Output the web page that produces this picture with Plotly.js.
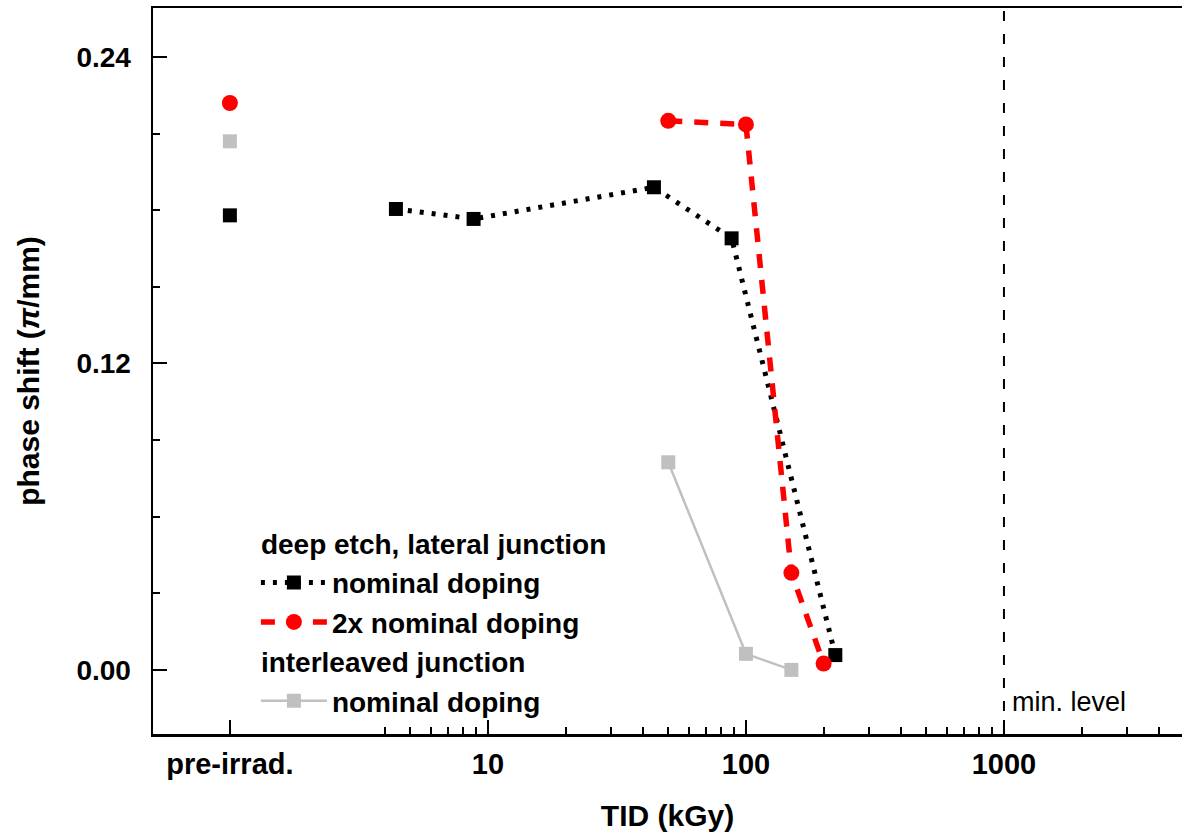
<!DOCTYPE html>
<html>
<head>
<meta charset="utf-8">
<script src="https://cdn.plot.ly/plotly-3.0.1.min.js"></script>
<style>html,body{margin:0;padding:0;overflow:hidden;background:#fff}</style>
</head>
<body>
<div id="chart" style="width:1182px;height:832px"></div>
<script>
// pre-irradiation is plotted at TID = 1 kGy (log position 0)
const preIrradX = 1;

// deep etch, lateral junction - nominal doping
const deepNomPre = 0.178;
const deepNomTID = [4.4, 8.8, 44, 88, 222];
const deepNomShift = [0.1805, 0.1766, 0.189, 0.169, 0.0058];

// deep etch, lateral junction - 2x nominal doping
const deep2xPre = 0.222;
const deep2xTID = [50, 100, 150, 200];
const deep2xShift = [0.2150, 0.2136, 0.0380, 0.0025];

// interleaved junction - nominal doping
const interNomPre = 0.207;
const interNomTID = [50, 100, 150];
const interNomShift = [0.0813, 0.0063, 0.0000];

// minimum level line
const minLevel = 1000;
const minLevelLabel = 'min. level';

// axis ticks
const xTickVals = [1, 10, 100, 1000];
const xTickText = ['pre-irrad.', '10', '100', '1000'];
const xMinorVals = [4,5,6,7,8,9,20,30,40,50,60,70,80,90,200,300,400,500,600,700,800,900,2000,3000,4000];
const yTickVals = [0, 0.12, 0.24];
const yTickText = ['0.00', '0.12', '0.24'];

const FONT = 'Arial, "Liberation Sans", sans-serif';
const black = '#000000', red = '#ff0000', gray = '#c0c0c0';

const yRange = [-0.0251, 0.2592];

const traces = [
  {
    x: deepNomTID, y: deepNomShift, mode: 'lines+markers', name: 'nominal doping',
    legendgroup: 'deep', legendgrouptitle: {text: 'deep etch, lateral junction', font: {size: 28, weight: 'bold', color: black}},
    line: {color: black, width: 5, dash: '4px,8px'},
    marker: {symbol: 'square', size: 14, color: black}
  },
  {
    x: deep2xTID, y: deep2xShift, mode: 'lines+markers', name: '2x nominal doping',
    legendgroup: 'deep',
    line: {color: red, width: 5.5, dash: '14px,12px'},
    marker: {symbol: 'circle', size: 16, color: red}
  },
  {
    x: interNomTID, y: interNomShift, mode: 'lines+markers', name: 'nominal doping',
    legendgroup: 'inter', legendgrouptitle: {text: 'interleaved junction', font: {size: 28, weight: 'bold', color: black}},
    line: {color: gray, width: 2.5},
    marker: {symbol: 'square', size: 14, color: gray}
  },
  {
    x: [preIrradX], y: [deepNomPre], mode: 'markers', showlegend: false, legendgroup: 'deep',
    marker: {symbol: 'square', size: 14, color: black}
  },
  {
    x: [preIrradX], y: [deep2xPre], mode: 'markers', showlegend: false, legendgroup: 'deep',
    marker: {symbol: 'circle', size: 16, color: red}
  },
  {
    x: [preIrradX], y: [interNomPre], mode: 'markers', showlegend: false, legendgroup: 'inter',
    marker: {symbol: 'square', size: 14, color: gray}
  },
  {
    x: [minLevel, minLevel], y: yRange, mode: 'lines', showlegend: false, hoverinfo: 'skip',
    line: {color: black, width: 2, dash: '10px,13px'}
  }
];

const layout = {
  width: 1182, height: 832,
  margin: {l: 153, r: 0, t: 8, b: 98},
  paper_bgcolor: '#ffffff', plot_bgcolor: '#ffffff',
  font: {family: FONT, color: black},
  showlegend: true,
  legend: {
    x: 0.1, y: 0.297, xanchor: 'left', yanchor: 'top',
    bgcolor: 'rgba(0,0,0,0)', traceorder: 'grouped', tracegroupgap: 0,
    font: {size: 28, weight: 'bold', color: black},
    itemwidth: 66
  },
  xaxis: {
    type: 'log', range: [-0.298, 3.69],
    showline: true, linecolor: black, linewidth: 2.5, mirror: true,
    showgrid: false, zeroline: false,
    tickmode: 'array', tickvals: xTickVals, ticktext: xTickText,
    ticks: 'inside', ticklen: 14, tickwidth: 2, tickcolor: black,
    ticklabelstandoff: 3,
    tickfont: {size: 29, weight: 'bold', family: FONT, color: black},
    minor: {tickmode: 'array', tickvals: xMinorVals, ticks: 'inside', ticklen: 7, tickwidth: 2, tickcolor: black, showgrid: false},
    title: {text: 'TID (kGy)', font: {size: 30, weight: 'bold', family: FONT, color: black}, standoff: 26}
  },
  yaxis: {
    range: yRange,
    showline: true, linecolor: black, linewidth: 2.5, mirror: false,
    showgrid: false, zeroline: false,
    tickmode: 'array', tickvals: yTickVals, ticktext: yTickText,
    ticks: 'inside', ticklen: 14, tickwidth: 2, tickcolor: black,
    ticklabelstandoff: 14,
    tickfont: {size: 28, weight: 'bold', family: FONT, color: black},
    minor: {dtick: 0.03, tick0: 0, ticks: 'inside', ticklen: 7, tickwidth: 2, tickcolor: black, showgrid: false},
    title: {text: 'phase shift (<i>π</i>/mm)', font: {size: 30, weight: 'bold', family: FONT, color: black}, standoff: 28}
  },
  annotations: [
    {
      x: Math.log10(minLevel), y: 0.0, xref: 'x', yref: 'y',
      text: minLevelLabel, showarrow: false, xanchor: 'left', yanchor: 'middle',
      xshift: 6, yshift: -32,
      font: {size: 27, family: FONT, color: black}
    }
  ]
};

Plotly.newPlot('chart', traces, layout, {displayModeBar: false, staticPlot: true});
</script>
</body>
</html>
